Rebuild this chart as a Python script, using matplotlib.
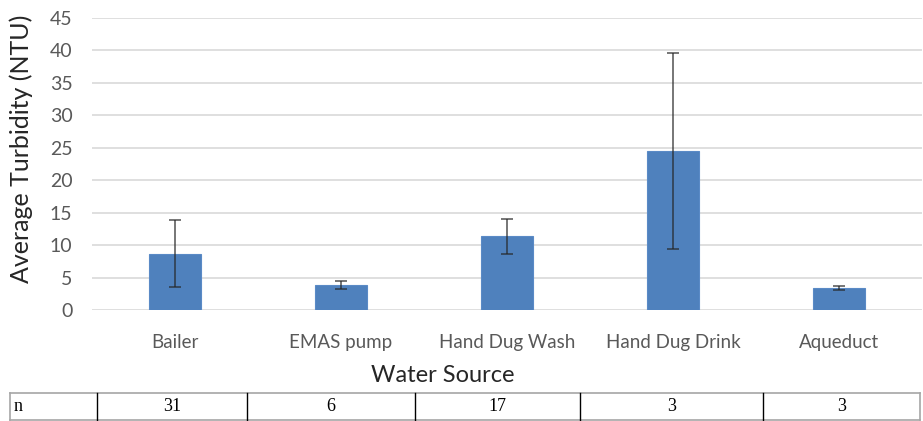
import numpy as np
import matplotlib.pyplot as plt

# --- data ---
sources = ["Bailer", "EMAS pump", "Hand Dug Wash", "Hand Dug Drink", "Aqueduct"]
turbidity = [8.7, 3.9, 11.4, 24.5, 3.4]
turbidity_err = [5.2, 0.6, 2.7, 15.1, 0.3]
sample_n = ["31", "6", "17", "3", "3"]
yticks = [0, 5, 10, 15, 20, 25, 30, 35, 40, 45]

W, H = 923, 421
FONT = "Lato"
fig = plt.figure(figsize=(W / 100, H / 100), dpi=100)
fig.patch.set_facecolor("white")

# --- main bar chart ---
ax = fig.add_axes([92 / W, 1 - 310 / H, (922 - 92) / W, (310 - 18) / H])
x = np.arange(len(sources))
ax.bar(x, turbidity, width=0.31, color="#4f81bd", edgecolor="#5a8ac6",
       linewidth=0.8, zorder=2)
ax.errorbar(x, turbidity, yerr=turbidity_err, fmt="none", ecolor="#262626",
            elinewidth=1.1, capsize=4, capthick=1.1, alpha=0.8, zorder=3)

ax.set_xlim(-0.5, len(sources) - 0.5)
ax.set_ylim(0, 45)
ax.set_yticks(yticks)
ax.yaxis.grid(True, color="#d9d9d9", linewidth=1.2, zorder=0)
ax.set_axisbelow(True)
for s in ax.spines.values():
    s.set_visible(False)
ax.tick_params(axis="both", length=0, labelcolor="#595959")
ax.tick_params(axis="y", labelsize=14, pad=14)
ax.tick_params(axis="x", labelsize=13.5, pad=17)
ax.set_xticks(x)
ax.set_xticklabels(sources, fontfamily=FONT)
for lbl in ax.get_yticklabels():
    lbl.set_fontfamily(FONT)
ax.set_ylabel("Average Turbidity (NTU)", fontsize=18, color="#262626",
              fontfamily=FONT)
ax.yaxis.set_label_coords(33 / W, 1 - 149 / H, transform=fig.transFigure)

fig.text(443 / W, 1 - 376 / H, "Water Source", ha="center", va="center",
         fontsize=17, color="#262626", fontfamily=FONT)

# --- sample-size table under the chart ---
tab = fig.add_axes([0, 0, 1, 1], facecolor="none")
tab.set_xlim(0, W)
tab.set_ylim(H, 0)
tab.axis("off")
col_edges = [10, 97, 247, 415, 580, 763, 920]
top, bot = 393, 420
tab.plot([col_edges[0], col_edges[-1]], [top, top], color="#a6a6a6", lw=1.2)
tab.plot([col_edges[0], col_edges[-1]], [bot, bot], color="#a6a6a6", lw=1.2)
tab.plot([col_edges[0]] * 2, [top, bot], color="#a6a6a6", lw=1.2)
tab.plot([col_edges[-1]] * 2, [top, bot], color="#a6a6a6", lw=1.2)
for xe in col_edges[1:-1]:
    tab.plot([xe, xe], [top, bot], color="black", lw=1.0)

mid = (top + bot) / 2
tab.text(col_edges[0] + 4, mid, "n", ha="left", va="center", fontsize=13,
         fontfamily="Liberation Serif")
for i, val in enumerate(sample_n):
    cx = (col_edges[i + 1] + col_edges[i + 2]) / 2
    tab.text(cx, mid, val, ha="center", va="center", fontsize=13,
             fontfamily="Liberation Serif")

fig.savefig("out.png", dpi=100)
